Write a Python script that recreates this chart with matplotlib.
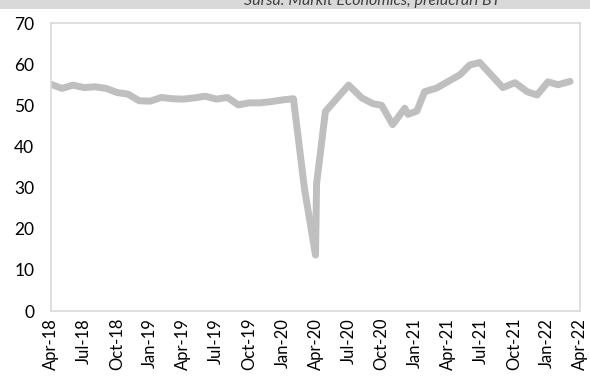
import matplotlib.pyplot as plt
from matplotlib.patches import Rectangle

# months counted from Apr-18 (as placed on the chart's date axis)
months = [0, 1, 2, 3, 4, 5, 6, 7, 8, 9, 10, 11,
          12, 13, 14, 15, 16, 17, 18, 19, 20, 21, 22, 23,
          24, 24.1, 24.9, 27, 28.2, 29.2, 30, 31, 32.1, 32.4, 33.2, 33.9,
          35, 37.1, 38.0, 38.9, 39.8, 41.0, 42.1, 43.2, 44.1, 45.1, 46.0, 47.1]
pmi = [55.1, 54.1, 54.9, 54.3, 54.5, 54.1, 53.1, 52.7, 51.1, 51.0, 51.9, 51.6,
       51.5, 51.8, 52.2, 51.5, 51.9, 50.1, 50.6, 50.6, 50.9, 51.3, 51.6, 29.7,
       13.6, 31.0, 48.5, 54.9, 51.8, 50.4, 50.0, 45.3, 49.3, 47.8, 48.6, 53.3,
       54.2, 57.4, 59.8, 60.4, 57.8, 54.3, 55.5, 53.3, 52.5, 55.7, 55.0, 55.8]

tick_pos = list(range(0, 49, 3))
tick_labels = ['Apr-18', 'Jul-18', 'Oct-18', 'Jan-19', 'Apr-19', 'Jul-19',
               'Oct-19', 'Jan-20', 'Apr-20', 'Jul-20', 'Oct-20', 'Jan-21',
               'Apr-21', 'Jul-21', 'Oct-21', 'Jan-22', 'Apr-22']

plt.rcParams['font.family'] = ['Lato', 'DejaVu Sans']

fig = plt.figure(figsize=(5.9, 3.76), dpi=100)
ax = fig.add_axes([51 / 590, 1 - 311 / 376, 529 / 590, 288 / 376])

# grey source band at the top, mostly cropped
fig.patches.append(Rectangle((0, 1 - 9 / 376), 1, 9 / 376, transform=fig.transFigure,
                             facecolor='#d9d9d9', edgecolor='none'))
fig.text(372 / 590, 1 - 1 / 376, 'Sursa: Markit Economics, prelucrari BT',
         ha='center', va='center', style='italic', fontsize=11.5, color='#404040')

ax.plot(months, pmi, color='#bfbfbf', linewidth=5, solid_joinstyle='round',
        solid_capstyle='round')

ax.set_xlim(0, 48)
ax.set_ylim(0, 70)
ax.set_yticks(range(0, 71, 10))
ax.set_xticks(tick_pos)
ax.set_xticklabels(tick_labels, rotation=90)
ax.tick_params(length=0, colors='#000000')
ax.tick_params(axis='y', pad=12, labelsize=12.5)
ax.tick_params(axis='x', pad=5, labelsize=12)

for side in ax.spines.values():
    side.set_color('#d9d9d9')
    side.set_linewidth(1.2)

fig.savefig('out.png', dpi=100)
